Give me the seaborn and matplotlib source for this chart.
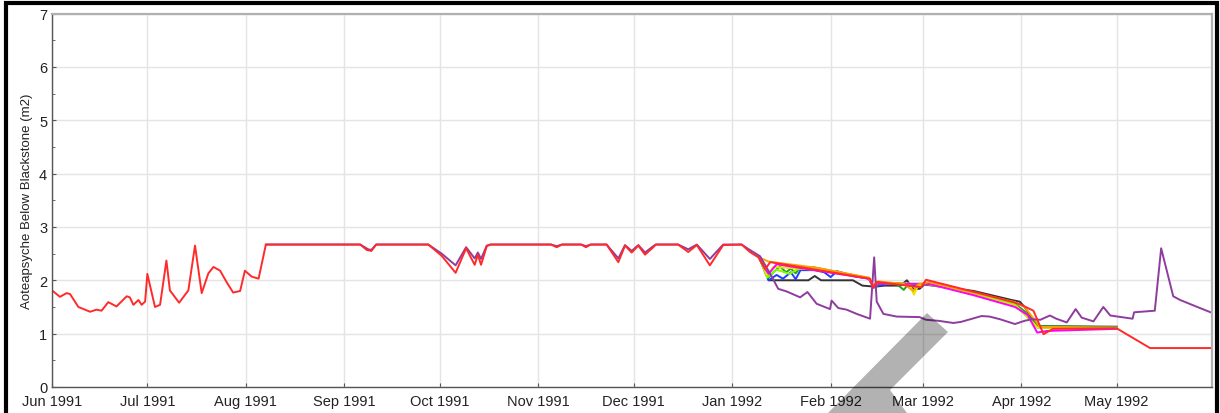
import pandas as pd
import numpy as np
import seaborn as sns
import matplotlib
matplotlib.use('Agg')
import matplotlib.pyplot as plt
import matplotlib.dates as mdates
from matplotlib.patches import Rectangle, Polygon

START = '1991-06-01'

# days since START
red_day = [0, 2.5, 4.6, 5.7, 8.3, 12, 14, 15.6, 17.7, 20.3, 23.5, 24.5, 25.6, 27.2, 28.2, 29.3, 30,
           32.4, 34, 36, 37.1, 40, 42.9, 45, 47.1, 49.2, 50.8, 52.9, 55, 57, 59.2, 60.7, 62.8, 65, 67.3,
           97, 99, 100.5, 102, 118.4, 122.6, 127, 130.3, 133, 134, 135, 136.8, 138, 157, 158.8, 160.5,
           166.5, 168, 169.5, 174.5, 178.2, 180.3, 182.4, 184.5, 186.6, 189.2, 190, 197, 200.2, 202.9,
           207, 211.2, 217, 219.6, 222.3, 224.4, 226, 257.4, 258.4, 259.5, 273.5, 275, 293, 302.5, 305,
           308.8, 312, 315, 335, 345.5, 365]
red_val = [1.81, 1.69, 1.76, 1.74, 1.50, 1.41, 1.45, 1.43, 1.59, 1.51, 1.70, 1.68, 1.54, 1.63, 1.54, 1.60, 2.12,
           1.50, 1.54, 2.37, 1.81, 1.58, 1.81, 2.65, 1.76, 2.13, 2.25, 2.18, 1.96, 1.77, 1.80, 2.18, 2.07, 2.03, 2.67,
           2.67, 2.57, 2.55, 2.67, 2.67, 2.46, 2.14, 2.60, 2.29, 2.48, 2.29, 2.64, 2.67, 2.67, 2.62, 2.67,
           2.67, 2.62, 2.67, 2.67, 2.34, 2.65, 2.52, 2.65, 2.48, 2.62, 2.67, 2.67, 2.53, 2.66,
           2.28, 2.66, 2.67, 2.53, 2.43, 2.21, 2.34, 2.03, 1.87, 1.97, 1.87, 2.01, 1.74, 1.59, 1.54,
           1.43, 0.99, 1.09, 1.10, 0.73, 0.73]

purple_day = [67.3, 97, 99.5, 100.5, 102, 118.4, 122.6, 127, 130.3, 133, 134, 135, 136.8, 138, 157, 158.8,
              160.5, 166.5, 168, 169.5, 174.5, 178.2, 180.3, 182.4, 184.5, 186.6, 189.2, 190, 197, 200.2,
              202.9, 207, 211.2, 217, 219, 222.8, 225.4, 227, 228.5, 231.2, 235.4, 237.7, 240.6, 244.8,
              245.3, 247.4, 250, 253.2, 257.4, 258.7, 259.5, 261.6, 265.8, 273, 275, 279, 283.6, 286,
              292.5, 295, 298.3, 303, 306, 308.3, 311, 314, 316, 319.3, 322.1, 324, 327.7, 330.8, 333,
              340, 340.5, 347, 349, 352.8, 355, 361.2, 365]
purple_val = [2.67, 2.67, 2.58, 2.57, 2.67, 2.67, 2.50, 2.28, 2.62, 2.41, 2.52, 2.40, 2.65, 2.67, 2.67, 2.64,
              2.67, 2.67, 2.64, 2.67, 2.67, 2.41, 2.66, 2.55, 2.66, 2.52, 2.64, 2.67, 2.67, 2.58,
              2.67, 2.40, 2.67, 2.67, 2.59, 2.45, 2.18, 2.01, 1.84, 1.79, 1.68, 1.78, 1.56, 1.46,
              1.62, 1.48, 1.45, 1.37, 1.28, 2.43, 1.60, 1.37, 1.32, 1.31, 1.26, 1.24, 1.20, 1.22,
              1.33, 1.32, 1.27, 1.18, 1.24, 1.27, 1.26, 1.34, 1.28, 1.21, 1.46, 1.30, 1.23, 1.50, 1.34,
              1.28, 1.40, 1.43, 2.60, 1.70, 1.63, 1.48, 1.39]

orange_day = [222.5, 225.5, 240, 257, 258.5, 260, 268, 271, 272.5, 276, 290, 303, 306, 311, 335]
orange_val = [2.43, 2.35, 2.24, 2.05, 1.90, 1.98, 1.93, 1.80, 1.92, 1.97, 1.77, 1.59, 1.50, 1.12, 1.11]

yellow_day = [222.5, 225, 227, 245, 257, 258.5, 260, 270, 271.2, 272.5, 276, 290, 303, 306, 310, 335]
yellow_val = [2.43, 2.10, 2.25, 2.18, 2.04, 1.88, 1.95, 1.92, 1.73, 1.90, 1.95, 1.73, 1.52, 1.38, 1.12, 1.10]

lime_day = [222.5, 225, 228, 232, 236, 257, 258.5, 260, 275, 290, 303, 307, 310, 335]
lime_val = [2.43, 2.05, 2.20, 2.12, 2.25, 2.04, 1.86, 1.96, 1.93, 1.76, 1.55, 1.30, 1.11, 1.11]

green_day = [222.5, 225.5, 227, 229, 231, 232.5, 234, 235.5, 240, 257, 258.5, 261, 266, 268, 269.5,
             276, 290, 303, 306, 310, 335]
green_val = [2.43, 2.05, 2.15, 2.26, 2.15, 2.22, 2.13, 2.25, 2.24, 2.04, 1.86, 1.95, 1.92, 1.82, 1.93,
             1.94, 1.76, 1.56, 1.42, 1.14, 1.12]

blue_day = [222.5, 225.5, 228, 230, 232.5, 234, 235.5, 240, 243, 245, 247, 250, 252, 257, 258.5, 261,
            266, 270, 276, 290, 303, 306, 310, 335]
blue_val = [2.43, 2.00, 2.10, 2.03, 2.15, 2.02, 2.19, 2.19, 2.15, 2.06, 2.17, 2.12, 2.08, 2.03, 1.88, 1.91,
            1.95, 1.90, 1.95, 1.75, 1.55, 1.40, 1.12, 1.12]

magenta_day = [222.5, 224, 225.5, 228, 257, 258.5, 260, 276, 290, 303, 307, 310, 313, 335]
magenta_val = [2.43, 2.25, 2.12, 2.30, 2.03, 1.86, 1.94, 1.93, 1.72, 1.50, 1.35, 1.02, 1.05, 1.09]

black_day = [222.5, 225.5, 238, 240, 242, 252, 255, 259, 262, 267, 269, 271, 273, 274.5, 290, 302,
             304.5, 306, 310, 335]
black_val = [2.43, 2.00, 2.00, 2.08, 2.00, 2.00, 1.90, 1.88, 1.90, 1.90, 2.00, 1.84, 1.84, 1.92, 1.80, 1.63,
             1.60, 1.50, 1.14, 1.13]

series = [
    ('black', black_day, black_val, '#333333'),
    ('blue', blue_day, blue_val, '#1f3dff'),
    ('green', green_day, green_val, '#22a022'),
    ('lime', lime_day, lime_val, '#7fff00'),
    ('yellow', yellow_day, yellow_val, '#e6e600'),
    ('magenta', magenta_day, magenta_val, '#ff00ff'),
    ('orange', orange_day, orange_val, '#ffa000'),
    ('purple', purple_day, purple_val, '#8e3c9e'),
    ('red', red_day, red_val, '#ff2a2a'),
]

frames = []
for name, d, v, _ in series:
    frames.append(pd.DataFrame({'date': pd.Timestamp(START) + pd.to_timedelta(d, unit='D'),
                                'value': v, 'series': name}))
df = pd.concat(frames, ignore_index=True)
palette = {name: c for name, _, _, c in series}
order = [name for name, _, _, _ in series]

plt.rcParams['font.family'] = ['Liberation Sans', 'DejaVu Sans']
fig = plt.figure(figsize=(12.2, 4.14), dpi=100)
ax = fig.add_axes([52 / 1220, 1 - 388 / 414, 1160 / 1220, (388 - 14.5) / 414])

sns.lineplot(data=df, x='date', y='value', hue='series', hue_order=order, palette=palette,
             estimator=None, linewidth=1.4, legend=False, ax=ax)

ax.set_xlim(pd.Timestamp(START), pd.Timestamp(START) + pd.Timedelta(days=365))
ax.set_ylim(0, 7)
ax.xaxis.set_major_locator(mdates.MonthLocator())
ax.xaxis.set_major_formatter(mdates.DateFormatter('%b %Y'))
ax.set_yticks(range(0, 8))
ax.set_yticks(np.arange(0.5, 7, 1), minor=True)
ax.grid(True, which='major', color='#e4e4e4', linewidth=1)
ax.set_axisbelow(True)
ax.tick_params(axis='both', which='major', direction='in', length=3, labelsize=10.5,
               colors='#555555', labelcolor='#222222')
ax.tick_params(axis='y', which='minor', direction='in', length=2, color='#555555')
ax.tick_params(axis='x', pad=5)
ax.set_xlabel('')
ax.set_ylabel('Aoteapsyche Below Blackstone (m2)', fontsize=9.5, color='#222222', labelpad=4)
for s in ['top', 'right']:
    ax.spines[s].set_color('#b0b0b0')
    ax.spines[s].set_linewidth(1.6)
for s in ['left', 'bottom']:
    ax.spines[s].set_color('#555555')
    ax.spines[s].set_linewidth(1.0)

# screenshot frame and overlay arrow tail
fig.add_artist(Rectangle((5.5 / 1220, -0.1), (1217 - 5.5) / 1220, 1.1 - 3.5 / 414,
                         transform=fig.transFigure, fill=False, edgecolor='black', linewidth=3))
arrow = [(828, 414), (927, 314), (948, 333), (890, 391), (907, 414)]
fig.add_artist(Polygon([(x / 1220, 1 - y / 414) for x, y in arrow], closed=True,
                       transform=fig.transFigure, facecolor='black', alpha=0.3, edgecolor='none'))

fig.savefig('out.png', dpi=100)
